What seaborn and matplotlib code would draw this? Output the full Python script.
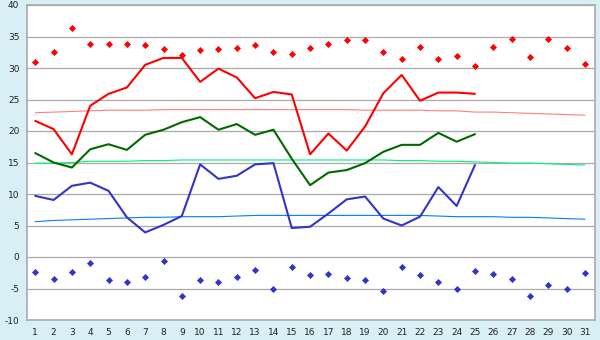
import matplotlib
matplotlib.use("Agg")
import matplotlib.pyplot as plt
import seaborn as sns
import pandas as pd

# days of the month
days = list(range(1, 32))

# observed daily values (month only measured up to day 25)
temp_max = [21.6, 20.3, 16.3, 24.0, 25.9, 26.9, 30.5, 31.6, 31.6, 27.8,
            29.9, 28.5, 25.2, 26.2, 25.8, 16.3, 19.6, 16.9, 20.7, 26.0,
            28.9, 24.8, 26.1, 26.1, 25.9]
temp_mean = [16.5, 15.0, 14.2, 17.1, 17.9, 17.0, 19.4, 20.2, 21.4, 22.2,
             20.2, 21.1, 19.4, 20.2, 15.6, 11.4, 13.4, 13.8, 14.9, 16.7,
             17.8, 17.8, 19.7, 18.3, 19.5]
temp_min = [9.7, 9.05, 11.3, 11.8, 10.5, 6.3, 3.9, 5.1, 6.5, 14.7,
            12.4, 12.9, 14.7, 14.9, 4.6, 4.8, 6.9, 9.15, 9.6, 6.1,
            5.0, 6.4, 11.1, 8.1, 14.6]

# records
record_max = [30.9, 32.5, 36.3, 33.75, 33.75, 33.75, 33.6, 33.0, 32.0, 32.8,
              33.0, 33.1, 33.65, 32.5, 32.3, 33.1, 33.75, 34.4, 34.4, 32.5,
              31.4, 33.3, 31.4, 31.85, 30.3, 33.4, 34.55, 31.7, 34.55, 33.1, 30.6]
record_min = [-2.4, -3.5, -2.4, -1.0, -3.7, -3.9, -3.1, -0.6, -6.2, -3.7,
              -4.0, -3.1, -2.0, -5.1, -1.6, -2.9, -2.75, -3.4, -3.7, -5.4,
              -1.6, -2.9, -4.0, -5.1, -2.3, -2.75, -3.5, -6.2, -4.5, -5.1, -2.6]

# long-term normals
normal_max = [22.9, 23.0, 23.1, 23.2, 23.3, 23.3, 23.3, 23.4, 23.4, 23.4,
              23.4, 23.4, 23.4, 23.4, 23.4, 23.4, 23.4, 23.4, 23.3, 23.3,
              23.3, 23.3, 23.2, 23.2, 23.0, 23.0, 22.9, 22.8, 22.7, 22.6, 22.5]
normal_mean = [14.9, 14.9, 15.0, 15.2, 15.2, 15.2, 15.3, 15.3, 15.4, 15.4,
               15.4, 15.4, 15.4, 15.4, 15.4, 15.4, 15.4, 15.4, 15.4, 15.4,
               15.3, 15.3, 15.2, 15.2, 15.1, 15.0, 14.9, 14.9, 14.8, 14.7, 14.6]
normal_min = [5.6, 5.8, 5.9, 6.0, 6.1, 6.2, 6.3, 6.3, 6.4, 6.4,
              6.4, 6.5, 6.6, 6.6, 6.6, 6.6, 6.6, 6.6, 6.6, 6.6,
              6.6, 6.6, 6.5, 6.4, 6.4, 6.4, 6.3, 6.3, 6.2, 6.1, 6.0]

obs = pd.DataFrame({"day": days[:len(temp_max)], "max": temp_max,
                    "mean": temp_mean, "min": temp_min})
ref = pd.DataFrame({"day": days, "rec_max": record_max, "rec_min": record_min,
                    "n_max": normal_max, "n_mean": normal_mean, "n_min": normal_min})

sns.set_style("white")
plt.rcParams["font.family"] = ["DejaVu Sans"]
plt.rcParams["axes.unicode_minus"] = False

fig = plt.figure(figsize=(6, 3.4), dpi=100, facecolor="#d9eff6")
ax = fig.add_axes([27 / 600, 20 / 340, 568 / 600, 315 / 340])
ax.set_facecolor("white")

# normals (thin)
sns.lineplot(data=ref, x="day", y="n_max", ax=ax, color="#ff8080", lw=0.8)
sns.lineplot(data=ref, x="day", y="n_mean", ax=ax, color="#00f080", lw=0.8)
sns.lineplot(data=ref, x="day", y="n_min", ax=ax, color="#0080ff", lw=0.8)

# observed
sns.lineplot(data=obs, x="day", y="max", ax=ax, color="#ff0000", lw=1.5)
sns.lineplot(data=obs, x="day", y="mean", ax=ax, color="#006a00", lw=1.5)
sns.lineplot(data=obs, x="day", y="min", ax=ax, color="#3333cc", lw=1.5)

# records
sns.scatterplot(data=ref, x="day", y="rec_max", ax=ax, color="#ff0000",
                marker="D", s=13, linewidth=0)
sns.scatterplot(data=ref, x="day", y="rec_min", ax=ax, color="#3333cc",
                marker="D", s=13, linewidth=0)

ax.set_xlim(0.55, 31.55)
ax.set_ylim(-10, 40)
ax.set_xticks(days)
ax.set_yticks(range(-10, 41, 5))
ax.set_xlabel("")
ax.set_ylabel("")
ax.yaxis.grid(True, color="#aaaaaa", lw=0.9)
ax.set_axisbelow(True)
for s in ax.spines.values():
    s.set_color("#aaaaaa")
    s.set_linewidth(1.2)
ax.tick_params(axis="both", labelsize=6.5, labelcolor="#222222", length=4,
               width=0.8, direction="out", pad=1.5, color="#888888")

fig.savefig("out.png", dpi=100, facecolor=fig.get_facecolor())
